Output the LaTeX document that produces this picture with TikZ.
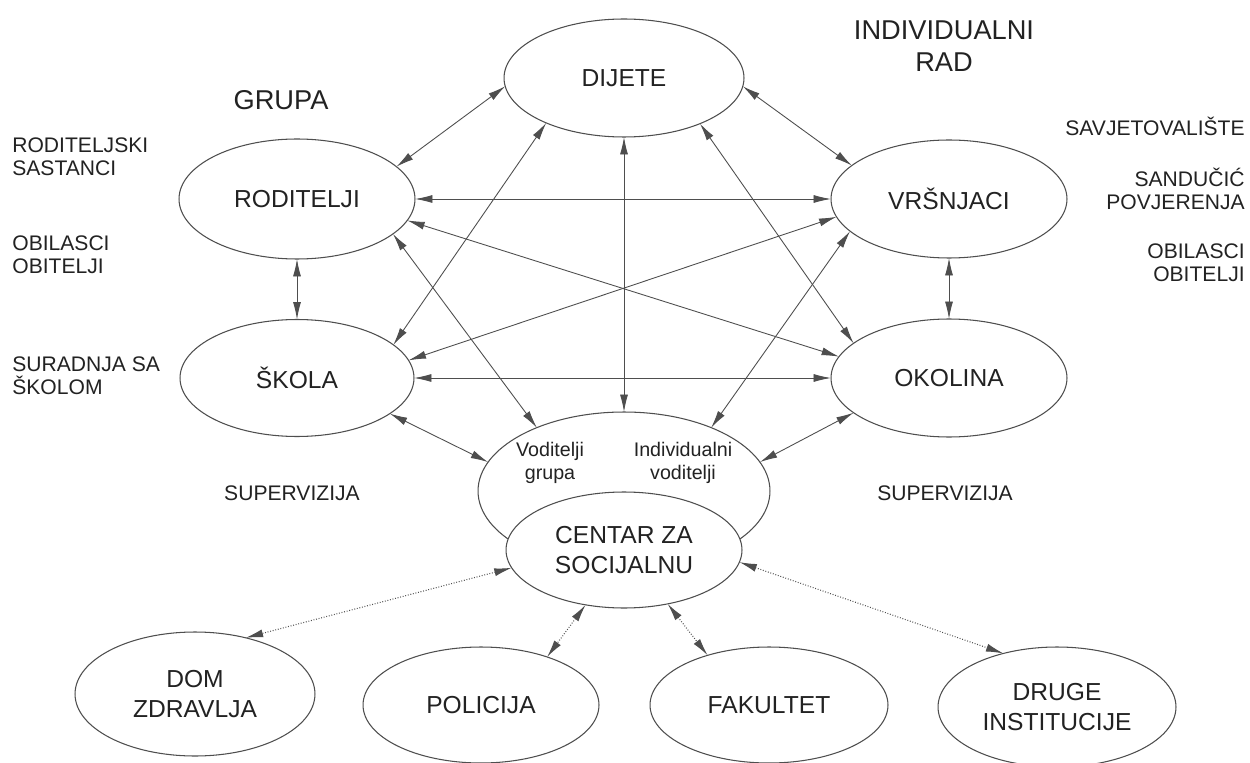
\documentclass[tikz,border=0pt]{standalone}
\usepackage{fontspec}
\setmainfont{Liberation Sans}
\usetikzlibrary{shapes.geometric,arrows.meta}
\definecolor{ink}{HTML}{222222}
\definecolor{edgegray}{HTML}{4E4E4E}
\tikzset{
  oval/.style={ellipse, draw=edgegray, line width=0.6pt, inner sep=0pt, outer sep=0pt,
    fill=white, text=ink, align=center, font=\fontsize{14}{16.8}\selectfont},
  conn/.style={{Latex[length=3.5mm,width=1.6mm]}-{Latex[length=3.5mm,width=1.6mm]}, draw=edgegray, line width=0.5pt},
  dconn/.style={conn, densely dotted, line width=0.6pt},
  sidel/.style={text=ink, inner sep=0pt, font=\fontsize{12}{13.1}\selectfont},
  titlel/.style={text=ink, inner sep=0pt, align=center, font=\fontsize{15.5}{18.2}\selectfont},
  smalll/.style={text=ink, inner sep=0pt, align=center, font=\fontsize{11.2}{13.1}\selectfont},
}
\begin{document}
\begin{tikzpicture}[x=0.02cm,y=-0.02cm]
\path[use as bounding box, fill=white] (0,0) rectangle (1250,763);

% main nodes
\node[oval, minimum width=4.8cm, minimum height=2.36cm] (dij) at (624,78) {DIJETE};
\node[oval, minimum width=4.72cm, minimum height=2.4cm] (rod) at (297,199) {RODITELJI};
\node[oval, minimum width=4.72cm, minimum height=2.36cm] (vrs) at (949,199) {VRŠNJACI};
\node[oval, minimum width=4.68cm, minimum height=2.34cm] (sko) at (297,378) {ŠKOLA};
\node[oval, minimum width=4.72cm, minimum height=2.36cm] (oko) at (949,378) {OKOLINA};
\node[oval, minimum width=5.84cm, minimum height=3.16cm] (vod) at (624,491) {};
\node[oval, minimum width=4.72cm, minimum height=2.32cm] (cen) at (624,550) {CENTAR ZA\\SOCIJALNU};
\node[oval, minimum width=4.8cm, minimum height=2.48cm] (dom) at (195,694) {DOM\\ZDRAVLJA};
\node[oval, minimum width=4.72cm, minimum height=2.32cm] (pol) at (481,705) {POLICIJA};
\node[oval, minimum width=4.76cm, minimum height=2.32cm] (fak) at (769,705) {FAKULTET};
\node[oval, minimum width=4.76cm, minimum height=2.4cm] (dru) at (1057,707) {DRUGE\\INSTITUCIJE};

% labels inside the outer centre ellipse
\node[smalll] (vg) at (550,463) {Voditelji\\grupa};
\node[smalll] (iv) at (683,463) {Individualni\\voditelji};

% titles
\node[titlel] (grupa) at (281,100) {GRUPA};
\node[titlel] (indiv) at (944,46) {INDIVIDUALNI\\RAD};

% side labels left
\node[sidel, anchor=west, align=left] (rsl) at (12,156.5) {RODITELJSKI\\SASTANCI};
\node[sidel, anchor=west, align=left] (obl) at (12,254.5) {OBILASCI\\OBITELJI};
\node[sidel, anchor=west, align=left] (sur) at (12,376) {SURADNJA SA\\ŠKOLOM};
% side labels right
\node[sidel, anchor=base east] (sav) at (1245,135.5) {SAVJETOVALIŠTE};
\node[sidel, anchor=east, align=right] (san) at (1245,189) {SANDUČIĆ\\POVJERENJA};
\node[sidel, anchor=east, align=right] (obr) at (1245,262.5) {OBILASCI\\OBITELJI};
% supervizija
\node[sidel] (supl) at (292,493) {SUPERVIZIJA};
\node[sidel] (supr) at (945,493) {SUPERVIZIJA};

% solid connectors
\draw[conn] (dij.184) -- (rod.18);
\draw[conn] (dij.356) -- (vrs.161);
\draw[conn] (dij.210.6) -- (sko.19.5);
\draw[conn] (dij.329.4) -- (oko.160.3);
\draw[conn] (dij.south) -- (vod.north);
\draw[conn] (rod.east) -- (vrs.west);
\draw[conn] (rod.south) -- (sko.north);
\draw[conn] (rod.349.7) -- (oko.169.3);
\draw[conn] (rod.340.5) -- (vod.144.3);
\draw[conn] (vrs.189.6) -- (sko.9.6);
\draw[conn] (vrs.south) -- (oko.north);
\draw[conn] (vrs.198.6) -- (vod.36);
\draw[conn] (sko.east) -- (oko.west);
\draw[conn] (sko.339.4) -- (vod.168);
\draw[conn] (oko.200.8) -- (vod.12);

% dotted connectors
\draw[dconn] (cen.189) -- (dom.48.4);
\draw[dconn] (cen.235.7) -- (pol.36.7);
\draw[dconn] (cen.309.6) -- (fak.141.1);
\draw[dconn] (cen.354.2) -- (dru.135.5);
\end{tikzpicture}
\end{document}
